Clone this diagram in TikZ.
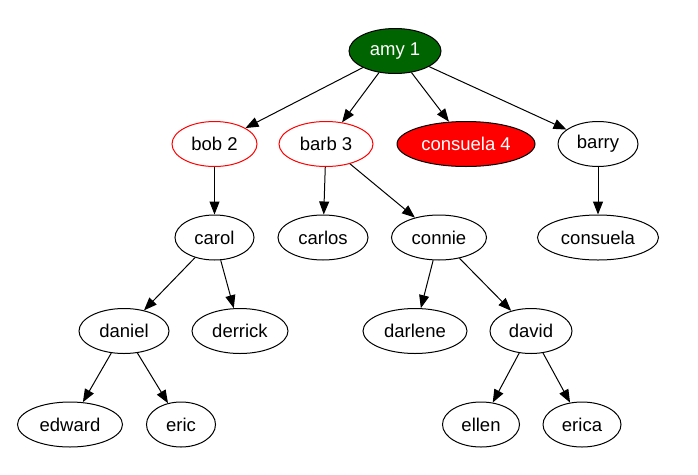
\documentclass[tikz,border=0pt]{standalone}
\usepackage{fontspec}
\setmainfont{Liberation Sans}
\usetikzlibrary{shapes.geometric,arrows.meta}
\definecolor{dgreen}{HTML}{006400}
\definecolor{bred}{HTML}{FF0000}
\begin{document}
\begin{tikzpicture}[x=1pt,y=-1pt,
  nd/.style={ellipse,draw=black,line width=1pt,inner sep=0pt,minimum height=45pt,font=\fontsize{18.5}{21}\selectfont},
  edge/.style={line width=1pt,-{Triangle[length=13pt,width=10pt]}}]
\useasboundingbox (0,0) rectangle (698,474);
\node[nd,fill=dgreen,text=white,minimum width=92pt] (amy) at (395,51) {amy 1};
\node[nd,draw=bred,minimum width=85pt] (bob) at (214.5,144) {bob 2};
\node[nd,draw=bred,minimum width=94pt] (barb) at (326,144) {barb 3};
\node[nd,fill=bred,text=white,minimum width=138pt] (cons4) at (466,144) {consuela 4};
\node[nd,minimum width=80pt] (barry) at (598,144) {barry};
\node[nd,minimum width=79pt] (carol) at (214.5,237.5) {carol};
\node[nd,minimum width=90pt] (carlos) at (323,237.5) {carlos};
\node[nd,minimum width=95pt] (connie) at (439,237.5) {connie};
\node[nd,minimum width=121pt] (cons) at (598,237.5) {consuela};
\node[nd,minimum width=90pt] (daniel) at (124,331) {daniel};
\node[nd,minimum width=96pt] (derrick) at (240,331) {derrick};
\node[nd,minimum width=104pt] (darlene) at (415,331) {darlene};
\node[nd,minimum width=82pt] (david) at (531,331) {david};
\node[nd,minimum width=105pt] (edward) at (70,424.5) {edward};
\node[nd,minimum width=69pt] (eric) at (181,424.5) {eric};
\node[nd,minimum width=77pt] (ellen) at (481,424.5) {ellen};
\node[nd,minimum width=78pt] (erica) at (582,424.5) {erica};
\draw[edge] (amy) -- (bob);
\draw[edge] (amy) -- (barb);
\draw[edge] (amy) -- (cons4);
\draw[edge] (amy) -- (barry);
\draw[edge] (bob) -- (carol);
\draw[edge] (barb) -- (carlos);
\draw[edge] (barb) -- (connie);
\draw[edge] (barry) -- (cons);
\draw[edge] (carol) -- (daniel);
\draw[edge] (carol) -- (derrick);
\draw[edge] (connie) -- (darlene);
\draw[edge] (connie) -- (david);
\draw[edge] (daniel) -- (edward);
\draw[edge] (daniel) -- (eric);
\draw[edge] (david) -- (ellen);
\draw[edge] (david) -- (erica);
\end{tikzpicture}
\end{document}
